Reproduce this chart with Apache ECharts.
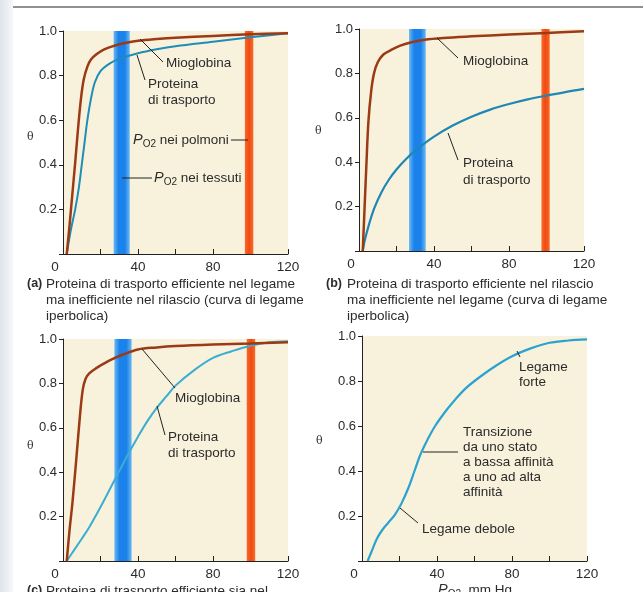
<!DOCTYPE html>
<html lang="it">
<head>
    <meta charset="UTF-8">
    <title>Curve di legame</title>
    <style>
        /* pagina */
        body {
            margin: 0;
            padding: 0;
            background: #ffffff;
        }

        #chart {
            width: 643px;
            height: 592px;
        }
    </style>
    <script src="https://cdn.jsdelivr.net/npm/echarts@6/dist/echarts.min.js"></script>
</head>
<body>
    <div id="chart"></div>

    <script>
        // dati: [pO2 mm Hg, theta]
        var mioglobinaA = [[2,0],[3.5,0.13],[5,0.27],[6.5,0.41],[8,0.56],[9.5,0.69],[11,0.78],[13,0.84],[15,0.873],[18,0.897],[22,0.918],[27,0.933],[33,0.946],[40,0.956],[50,0.964],[60,0.97],[80,0.978],[100,0.985],[120,0.99]];
        var trasportoA = [[2,0],[4,0.1],[6.5,0.2],[8.5,0.3],[10,0.4],[11.5,0.5],[13,0.6],[15,0.7],[17,0.77],[20,0.82],[25,0.855],[30,0.875],[40,0.9],[50,0.918],[60,0.932],[80,0.952],[100,0.972],[120,0.99]];

        var mioglobinaB = [[2,0],[3,0.2],[4,0.4],[5,0.58],[6.5,0.72],[8,0.8],[10,0.85],[13,0.885],[17,0.905],[22,0.925],[28,0.94],[35,0.952],[45,0.96],[60,0.967],[80,0.975],[100,0.982],[120,0.99]];
        var trasportoB = [[2,0],[3,0.045],[5,0.11],[8,0.19],[12,0.265],[16,0.322],[20,0.367],[25,0.413],[30,0.452],[40,0.515],[50,0.565],[60,0.605],[70,0.637],[80,0.662],[90,0.683],[100,0.7],[110,0.716],[120,0.73]];

        var mioglobinaC = [[2,0],[3.5,0.14],[5,0.26],[7,0.45],[9,0.65],[10.5,0.77],[12,0.82],[14,0.845],[18,0.87],[22,0.89],[26,0.908],[32,0.93],[40,0.953],[50,0.962],[60,0.968],[80,0.975],[100,0.98],[120,0.985]];
        var trasportoC = [[2,0],[6,0.05],[10,0.1],[14,0.152],[18,0.212],[22,0.275],[26,0.34],[30,0.405],[35,0.485],[40,0.56],[45,0.63],[50,0.69],[55,0.74],[60,0.79],[70,0.86],[80,0.915],[90,0.945],[100,0.97],[110,0.985],[120,0.99]];

        var curvaD = [[3,0],[5,0.04],[8,0.1],[11,0.14],[14,0.17],[17.5,0.205],[21,0.255],[25,0.33],[28,0.4],[31,0.47],[35,0.54],[39,0.6],[45,0.67],[50,0.72],[55,0.765],[60,0.8],[70,0.86],[80,0.91],[90,0.945],[100,0.97],[110,0.98],[120,0.985]];

        // bande di pO2 (tessuti, polmoni) per i pannelli a, b, c
        var bandaTessuti = [[27, 35.6], [26.7, 35.6], [27.4, 36.6]];
        var bandaPolmoni = [[97, 101.5], [97.3, 101.7], [98, 102.5]];

        var xTicks = ['0', '40', '80', '120'];
        var yTicks = ['0.2', '0.4', '0.6', '0.8', '1.0'];

        var chart = echarts.init(document.getElementById('chart'));

        var font = '"Liberation Sans", Arial, sans-serif';
        var testo = '#2b2b2b';

        var griglie = [
            { left: 63, top: 31, width: 225, height: 223 },
            { left: 359, top: 29, width: 225, height: 222 },
            { left: 63, top: 339, width: 225, height: 222 },
            { left: 362, top: 336, width: 225, height: 225 }
        ];

        var grid = griglie.map(function (g) {
            return {
                left: g.left, top: g.top, width: g.width, height: g.height,
                show: true,
                backgroundColor: '#f8f2dc',
                borderWidth: 0,
                outerBoundsMode: 'none',
                containLabel: false
            };
        });

        var xAxis = griglie.map(function (g, i) {
            return {
                type: 'value', gridIndex: i, min: 0, max: 120, interval: 20,
                axisLine: { show: true, lineStyle: { color: '#222', width: 1 } },
                axisTick: { show: true, inside: true, length: 5, lineStyle: { color: '#222' } },
                splitLine: { show: false },
                axisLabel: {
                    margin: 6, color: testo, fontSize: 13.5, fontFamily: font,
                    formatter: function (v) {
                        var s = String(v);
                        if (xTicks.indexOf(s) < 0) return '';
                        return v === 0 ? '{z|0}' : s;
                    },
                    rich: { z: { fontSize: 13.5, fontFamily: font, color: testo, padding: [0, 16, 0, 0] } }
                }
            };
        });

        var yAxis = griglie.map(function (g, i) {
            return {
                type: 'value', gridIndex: i, min: 0, max: 1, interval: 0.2,
                axisLine: { show: true, lineStyle: { color: '#222', width: 1 } },
                axisTick: { show: true, length: 4, lineStyle: { color: '#222' } },
                splitLine: { show: false },
                axisLabel: {
                    margin: 6, color: testo, fontSize: 13, fontFamily: font,
                    formatter: function (v) {
                        var s = v.toFixed(1);
                        return yTicks.indexOf(s) < 0 ? '' : s;
                    }
                }
            };
        });

        var blu = new echarts.graphic.LinearGradient(0, 0, 1, 0, [
            { offset: 0, color: '#6cb8f3' },
            { offset: 0.3, color: '#1a82ea' },
            { offset: 0.7, color: '#1a82ea' },
            { offset: 1, color: '#6cb8f3' }
        ]);
        var rosso = new echarts.graphic.LinearGradient(0, 0, 1, 0, [
            { offset: 0, color: '#f86a2a' },
            { offset: 0.5, color: '#f04a12' },
            { offset: 1, color: '#f86a2a' }
        ]);

        function linea(i, dati, colore, larghezza) {
            return {
                type: 'line', xAxisIndex: i, yAxisIndex: i, data: dati,
                smooth: 0.35, showSymbol: false, z: 3,
                lineStyle: { color: colore, width: larghezza },
                silent: true
            };
        }

        var series = [];
        for (var i = 0; i < 3; i++) {
            series.push({
                type: 'line', xAxisIndex: i, yAxisIndex: i, data: [], z: 1, silent: true,
                markArea: {
                    silent: true,
                    data: [
                        [{ xAxis: bandaTessuti[i][0], yAxis: 0, itemStyle: { color: blu } }, { xAxis: bandaTessuti[i][1], yAxis: 1 }],
                        [{ xAxis: bandaPolmoni[i][0], yAxis: 0, itemStyle: { color: rosso } }, { xAxis: bandaPolmoni[i][1], yAxis: 1 }]
                    ]
                }
            });
        }
        series.push(linea(0, trasportoA, '#1f8db6', 2));
        series.push(linea(0, mioglobinaA, '#9c3a16', 2.5));
        series.push(linea(1, trasportoB, '#1f87b4', 2.2));
        series.push(linea(1, mioglobinaB, '#9c3a16', 2.5));
        series.push(linea(2, trasportoC, '#3aaed0', 2));
        series.push(linea(2, mioglobinaC, '#9c3a16', 2.5));
        series.push(linea(3, curvaD, '#2aa3d0', 2.2));

        // testi e linee di richiamo
        function t(x, y, s, extra) {
            var st = { text: s, x: x, y: y, fill: testo, fontSize: 13.5, fontFamily: font, textVerticalAlign: 'middle' };
            if (extra) for (var k in extra) st[k] = extra[k];
            return { type: 'text', z: 10, style: st };
        }
        function l(x1, y1, x2, y2) {
            return { type: 'line', z: 10, shape: { x1: x1, y1: y1, x2: x2, y2: y2 }, style: { stroke: '#222', lineWidth: 1 } };
        }
        var po2Rich = {
            p: { fontStyle: 'italic', fontSize: 14.5, fontFamily: font, fill: testo },
            s: { fontSize: 10, fontFamily: font, fill: testo, padding: [9, 0, 0, 0] },
            n: { fontSize: 13.5, fontFamily: font, fill: testo }
        };
        function po2(x, y, resto) {
            return { type: 'text', z: 10, style: { text: '{p|P}{s|O2}{n|' + resto + '}', rich: po2Rich, x: x, y: y, textVerticalAlign: 'middle' } };
        }
        var theta = { fontFamily: '"DejaVu Serif", serif', fontSize: 11, fill: '#333' };
        var lettera = { fontWeight: 'bold', fontSize: 12.5 };

        var graphic = [
            // cornice della pagina
            { type: 'rect', z: 0, shape: { x: 0, y: 0, width: 13, height: 592 },
              style: { fill: new echarts.graphic.LinearGradient(0, 0, 1, 0, [{ offset: 0, color: '#dfe4ea' }, { offset: 1, color: '#f6f7f9' }]) } },
            l(13, 7, 643, 7),
            // pannello a
            t(27, 137, 'θ', theta),
            l(140, 39, 163, 62), t(166, 63, 'Mioglobina'),
            l(137, 55, 145, 80), t(148, 84, 'Proteina'), t(148, 100, 'di trasporto'),
            po2(133, 140, ' nei polmoni'), l(231, 140, 248, 140),
            l(122, 178, 152, 178), po2(154, 178, ' nei tessuti'),
            t(27, 284, '(a)', lettera),
            t(46, 284, 'Proteina di trasporto efficiente nel legame'),
            t(46, 300, 'ma inefficiente nel rilascio (curva di legame'),
            t(46, 316, 'iperbolica)'),
            // pannello b
            t(315, 131, 'θ', theta),
            l(437, 38, 458, 58), t(463, 61, 'Mioglobina'),
            l(448, 133, 458, 160), t(463, 163, 'Proteina'), t(463, 180, 'di trasporto'),
            t(326, 284, '(b)', lettera),
            t(347, 284, 'Proteina di trasporto efficiente nel rilascio'),
            t(347, 300, 'ma inefficiente nel legame (curva di legame'),
            t(347, 316, 'iperbolica)'),
            // pannello c
            t(27, 446, 'θ', theta),
            l(142, 349, 175, 388), t(175, 398, 'Mioglobina'),
            l(157, 406, 165, 435), t(168, 437, 'Proteina'), t(168, 453, 'di trasporto'),
            t(27, 591, '(c)', lettera),
            t(46, 591, 'Proteina di trasporto efficiente sia nel'),
            // pannello d
            t(316, 441, 'θ', theta),
            l(517, 351, 520, 357), t(519, 367, 'Legame'), t(519, 382, 'forte'),
            l(423, 452, 458, 452),
            t(463, 432, 'Transizione'), t(463, 447, 'da uno stato'), t(463, 462, 'a bassa affinità'),
            t(463, 477, 'a uno ad alta'), t(463, 492, 'affinità'),
            l(400, 508, 418, 523), t(422, 529, 'Legame debole'),
            po2(438, 590, ', mm Hg')
        ];

        chart.setOption({
            backgroundColor: '#ffffff',
            animation: false,
            grid: grid,
            xAxis: xAxis,
            yAxis: yAxis,
            series: series,
            graphic: graphic
        });
    </script>
</body>
</html>
